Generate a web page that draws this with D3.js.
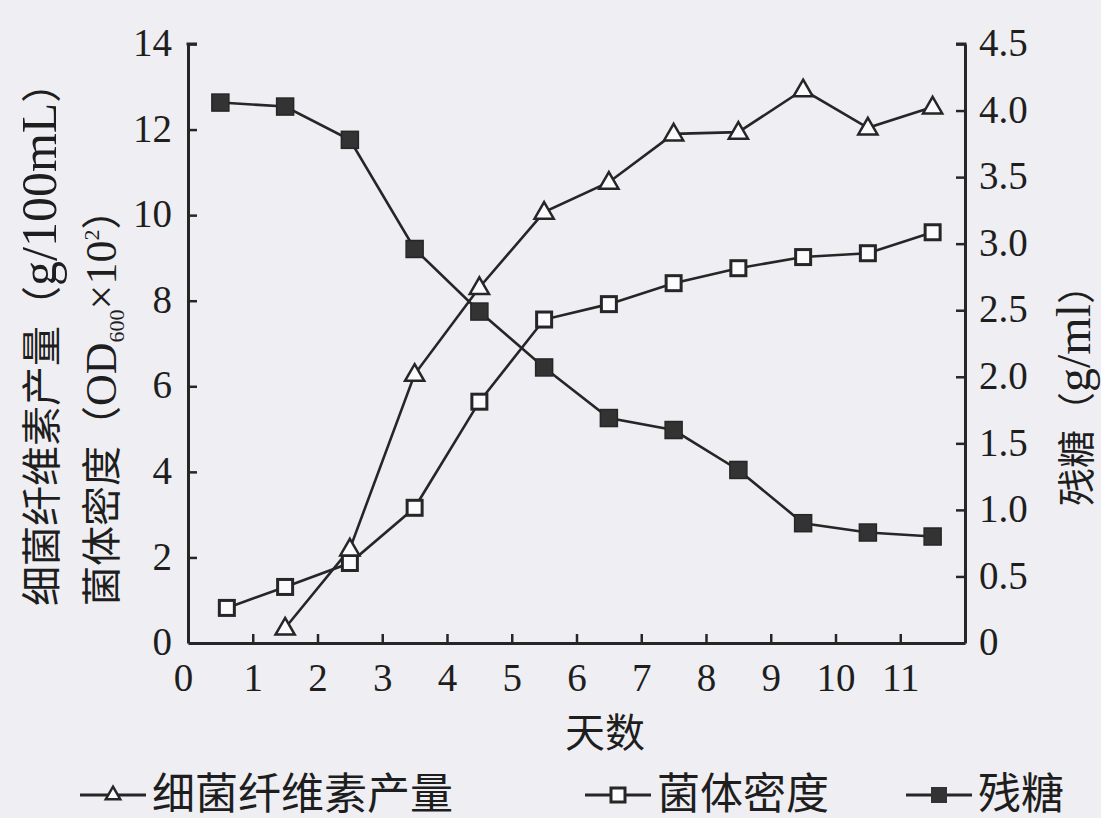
<!DOCTYPE html>
<html>
<head>
<meta charset="utf-8">
<script src="https://cdn.jsdelivr.net/npm/d3@7"></script>
<style>
  body { margin: 0; background: #efeff3; }
  svg { display: block; }
  text { fill: #1e1e1e; }
</style>
</head>
<body>
<div id="chart"></div>
<script>
// data
const days = [0.5, 1.5, 2.5, 3.5, 4.5, 5.5, 6.5, 7.5, 8.5, 9.5, 10.5, 11.5];
const densityDays = [0.6, 1.5, 2.5, 3.5, 4.5, 5.5, 6.5, 7.5, 8.5, 9.5, 10.5, 11.5];
const celluloseDays = [1.5, 2.5, 3.5, 4.5, 5.5, 6.5, 7.5, 8.5, 9.5, 10.5, 11.5];

const cellulose = [0.35, 2.2, 6.28, 8.31, 10.07, 10.77, 11.9, 11.94, 12.93, 12.04, 12.53];
const density = [0.82, 1.31, 1.87, 3.16, 5.64, 7.56, 7.92, 8.41, 8.76, 9.02, 9.11, 9.6];
const sugar = [4.06, 4.03, 3.78, 2.96, 2.49, 2.07, 1.69, 1.6, 1.3, 0.9, 0.83, 0.8];

const xTicks = [0, 1, 2, 3, 4, 5, 6, 7, 8, 9, 10, 11];
const leftTicks = [0, 2, 4, 6, 8, 10, 12, 14];
const rightTicks = [0, 0.5, 1.0, 1.5, 2.0, 2.5, 3.0, 3.5, 4.0, 4.5];

const legendNames = ["细菌纤维素产量", "菌体密度", "残糖"];

const W = 1101, H = 818;
const plot = { left: 188, right: 965, top: 44, bottom: 643 };
const ink = "#262626";
const numFont = "'Liberation Serif', 'DejaVu Serif', serif";
const cjkFont = "'Liberation Serif', 'Noto Sans CJK SC', serif";

const svg = d3.select("#chart").append("svg")
  .attr("width", W)
  .attr("height", H);

const x = d3.scaleLinear().domain([0, 12]).range([plot.left, plot.right]);
const yL = d3.scaleLinear().domain([0, 14]).range([plot.bottom, plot.top]);
const yR = d3.scaleLinear().domain([0, 4.5]).range([plot.bottom, plot.top]);

// axes (ticks point inward)
const xAxis = svg.append("g")
  .attr("transform", `translate(0,${plot.bottom})`)
  .call(d3.axisBottom(x).tickValues(xTicks).tickSizeInner(-9).tickSizeOuter(0).tickPadding(20).tickFormat(d3.format("d")));

const lAxis = svg.append("g")
  .attr("transform", `translate(${plot.left},0)`)
  .call(d3.axisLeft(yL).tickValues(leftTicks).tickSizeInner(-9).tickSizeOuter(0).tickPadding(16).tickFormat(d3.format("d")));

const rAxis = svg.append("g")
  .attr("transform", `translate(${plot.right},0)`)
  .call(d3.axisRight(yR).tickValues(rightTicks).tickSizeInner(-9).tickSizeOuter(0).tickPadding(14)
    .tickFormat(d => d === 0 ? "0" : d3.format(".1f")(d)));

[xAxis, lAxis, rAxis].forEach(a => {
  a.select(".domain").attr("stroke", ink).attr("stroke-width", 3);
  a.selectAll(".tick line").attr("stroke", ink).attr("stroke-width", 2.5);
  a.selectAll(".tick text")
    .attr("fill", ink)
    .style("font-family", numFont)
    .style("font-size", "39px");
});
// x=0 label sits under the corner, a bit to the left
xAxis.selectAll(".tick").filter(d => d === 0).select("text").attr("dx", -5);
xAxis.selectAll(".tick").filter(d => d === 0).select("line").remove();
lAxis.selectAll(".tick").filter(d => d === 0).select("line").remove();
rAxis.selectAll(".tick").filter(d => d === 0).select("line").remove();
lAxis.selectAll(".tick text").attr("dy", "0.3em");
rAxis.selectAll(".tick text").attr("dy", "0.3em");

// top hooks at 14 and 4.5
svg.append("line").attr("x1", plot.left - 1.5).attr("x2", plot.left + 9).attr("y1", plot.top).attr("y2", plot.top)
  .attr("stroke", ink).attr("stroke-width", 3);
svg.append("line").attr("x1", plot.right + 1.5).attr("x2", plot.right - 9).attr("y1", plot.top).attr("y2", plot.top)
  .attr("stroke", ink).attr("stroke-width", 3);

// lines
const lineL = (xs) => d3.line().x((d, i) => x(xs[i])).y(d => yL(d));
const lineR = (xs) => d3.line().x((d, i) => x(xs[i])).y(d => yR(d));

svg.append("path").datum(sugar)
  .attr("fill", "none").attr("stroke", ink).attr("stroke-width", 2.6)
  .attr("d", lineR(days));
svg.append("path").datum(density)
  .attr("fill", "none").attr("stroke", ink).attr("stroke-width", 2.6)
  .attr("d", lineL(densityDays));
svg.append("path").datum(cellulose)
  .attr("fill", "none").attr("stroke", ink).attr("stroke-width", 2.6)
  .attr("d", lineL(celluloseDays));

// markers
const sq = 17;
const tri = d3.symbol().type(d3.symbolTriangle).size(160);

svg.selectAll(".sugar").data(sugar).enter().append("rect")
  .attr("class", "sugar")
  .attr("x", (d, i) => x(days[i]) - sq / 2)
  .attr("y", d => yR(d) - sq / 2)
  .attr("width", sq).attr("height", sq)
  .attr("fill", "#333").attr("stroke", ink).attr("stroke-width", 1.5);

svg.selectAll(".density").data(density).enter().append("rect")
  .attr("class", "density")
  .attr("x", (d, i) => x(densityDays[i]) - (sq - 2) / 2)
  .attr("y", d => yL(d) - (sq - 2) / 2)
  .attr("width", sq - 2).attr("height", sq - 2)
  .attr("fill", "#fbfbfd").attr("stroke", ink).attr("stroke-width", 3);

svg.selectAll(".cellulose").data(cellulose).enter().append("path")
  .attr("class", "cellulose")
  .attr("transform", (d, i) => `translate(${x(celluloseDays[i])},${yL(d) + 1})`)
  .attr("d", tri)
  .attr("fill", "#fbfbfd").attr("stroke", ink).attr("stroke-width", 2.5);

// axis titles
svg.append("text")
  .attr("transform", "translate(605,747)")
  .attr("text-anchor", "middle")
  .style("font-family", cjkFont).style("font-size", "40px")
  .text("天数");

const t1 = svg.append("text")
  .attr("transform", "translate(56,606) rotate(-90)")
  .attr("text-anchor", "start")
  .style("font-family", cjkFont).style("font-size", "40px");
t1.append("tspan").text("细菌纤维素产量（");
t1.append("tspan").style("font-size", "50px").text("g/100mL");
t1.append("tspan").text("）");

const t2 = svg.append("text")
  .attr("transform", "translate(116,606) rotate(-90)")
  .attr("text-anchor", "start")
  .style("font-family", cjkFont).style("font-size", "40px");
t2.append("tspan").text("菌体密度（");
t2.append("tspan").style("font-size", "44px").text("OD");
t2.append("tspan").style("font-size", "22px").attr("dy", 8).text("600");
t2.append("tspan").style("font-size", "44px").attr("dy", -8).text("×10");
t2.append("tspan").style("font-size", "22px").attr("dy", -17).text("2");
t2.append("tspan").attr("dy", 17).text("）");

const t3 = svg.append("text")
  .attr("transform", "translate(1090,506) rotate(-90)")
  .attr("text-anchor", "start")
  .style("font-family", cjkFont).style("font-size", "38px");
t3.append("tspan").text("残糖（");
t3.append("tspan").style("font-size", "48px").text("g/ml");
t3.append("tspan").text("）");

// legend
const legendX = [80, 585, 906];
const legend = svg.append("g").attr("transform", "translate(0,795)");
legendNames.forEach((name, i) => {
  const g = legend.append("g").attr("transform", `translate(${legendX[i]},0)`);
  g.append("line").attr("x1", 0).attr("x2", 66).attr("y1", 0).attr("y2", 0)
    .attr("stroke", ink).attr("stroke-width", 3);
  if (i === 0) {
    g.append("path").attr("transform", "translate(33,0)")
      .attr("d", d3.symbol().type(d3.symbolTriangle).size(90))
      .attr("fill", "#fbfbfd").attr("stroke", ink).attr("stroke-width", 2.5);
  } else if (i === 1) {
    g.append("rect").attr("x", 26).attr("y", -7).attr("width", 14).attr("height", 14)
      .attr("fill", "#fbfbfd").attr("stroke", ink).attr("stroke-width", 3);
  } else {
    g.append("rect").attr("x", 25).attr("y", -8).attr("width", 16).attr("height", 16)
      .attr("fill", "#333");
  }
  g.append("text")
    .attr("x", 72).attr("y", 14)
    .style("font-family", cjkFont).style("font-size", "43px")
    .text(name);
});
</script>
</body>
</html>
